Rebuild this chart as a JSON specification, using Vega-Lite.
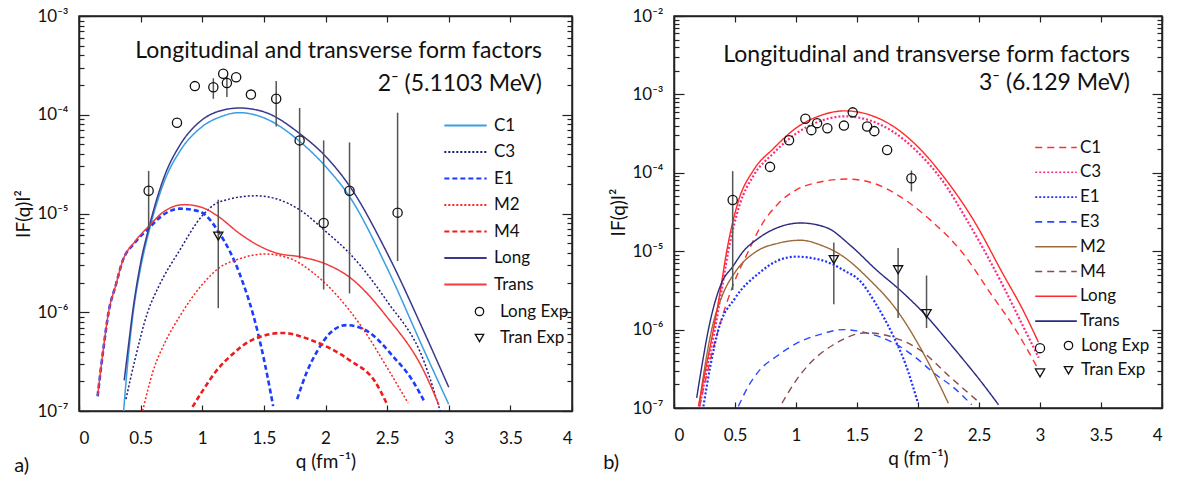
{
  "$schema": "https://vega.github.io/schema/vega-lite/v6.json",
  "padding": {"top": 6, "left": 14, "right": 2, "bottom": 0},
  "spacing": 595,
  "bounds": "flush",
  "resolve": {"scale": {"color": "independent", "strokeDash": "independent", "shape": "independent"}},
  "config": {
    "font": "Lato",
    "view": {"stroke": "#222", "strokeWidth": 1.5},
    "axis": {"grid": false, "domainColor": "#222", "domainWidth": 1.5, "tickColor": "#222", "tickWidth": 1.2, "labelFont": "Lato", "labelFontSize": 17, "labelColor": "#111", "titleFont": "Lato", "titleFontSize": 19, "titleFontWeight": "normal", "titleColor": "#111"},
    "legend": {"labelFont": "Lato", "labelFontSize": 17, "labelColor": "#111"},
    "title": {"font": "Lato", "fontWeight": "normal", "color": "#111", "subtitleFont": "Lato", "subtitleColor": "#111"}
  },
  "datasets": {
    "a_lines": [
      {"series": "C1", "seg": 1, "q": 0.362, "F": 1.0e-7},
      {"series": "C1", "seg": 1, "q": 0.4, "F": 3.55e-7},
      {"series": "C1", "seg": 1, "q": 0.435, "F": 8.9e-7},
      {"series": "C1", "seg": 1, "q": 0.5, "F": 2.82e-6},
      {"series": "C1", "seg": 1, "q": 0.57, "F": 6.76e-6},
      {"series": "C1", "seg": 1, "q": 0.7, "F": 2.24e-5},
      {"series": "C1", "seg": 1, "q": 0.813, "F": 4.17e-5},
      {"series": "C1", "seg": 1, "q": 1.0, "F": 7.59e-5},
      {"series": "C1", "seg": 1, "q": 1.15, "F": 9.55e-5},
      {"series": "C1", "seg": 1, "q": 1.3, "F": 1.05e-4},
      {"series": "C1", "seg": 1, "q": 1.5, "F": 9.3e-5},
      {"series": "C1", "seg": 1, "q": 1.8, "F": 5.25e-5},
      {"series": "C1", "seg": 1, "q": 2.0, "F": 3.0e-5},
      {"series": "C1", "seg": 1, "q": 2.2, "F": 1.45e-5},
      {"series": "C1", "seg": 1, "q": 2.5, "F": 2.8e-6},
      {"series": "C1", "seg": 1, "q": 2.8, "F": 4.1e-7},
      {"series": "C1", "seg": 1, "q": 3.0, "F": 1.17e-7},
      {"series": "C3", "seg": 1, "q": 0.381, "F": 1.32e-7},
      {"series": "C3", "seg": 1, "q": 0.45, "F": 3.16e-7},
      {"series": "C3", "seg": 1, "q": 0.557, "F": 1.0e-6},
      {"series": "C3", "seg": 1, "q": 0.65, "F": 1.86e-6},
      {"series": "C3", "seg": 1, "q": 0.813, "F": 4.17e-6},
      {"series": "C3", "seg": 1, "q": 1.0, "F": 9.5e-6},
      {"series": "C3", "seg": 1, "q": 1.11, "F": 1.26e-5},
      {"series": "C3", "seg": 1, "q": 1.2, "F": 1.38e-5},
      {"series": "C3", "seg": 1, "q": 1.43, "F": 1.51e-5},
      {"series": "C3", "seg": 1, "q": 1.6, "F": 1.41e-5},
      {"series": "C3", "seg": 1, "q": 1.8, "F": 1.07e-5},
      {"series": "C3", "seg": 1, "q": 2.0, "F": 6.61e-6},
      {"series": "C3", "seg": 1, "q": 2.2, "F": 3.89e-6},
      {"series": "C3", "seg": 1, "q": 2.5, "F": 1.29e-6},
      {"series": "C3", "seg": 1, "q": 2.8, "F": 3.16e-7},
      {"series": "C3", "seg": 1, "q": 2.93, "F": 1.0e-7},
      {"series": "E1", "seg": 1, "q": 0.151, "F": 1.41e-7},
      {"series": "E1", "seg": 1, "q": 0.2, "F": 4.47e-7},
      {"series": "E1", "seg": 1, "q": 0.24, "F": 1.0e-6},
      {"series": "E1", "seg": 1, "q": 0.3, "F": 1.91e-6},
      {"series": "E1", "seg": 1, "q": 0.354, "F": 3.31e-6},
      {"series": "E1", "seg": 1, "q": 0.45, "F": 5.01e-6},
      {"series": "E1", "seg": 1, "q": 0.557, "F": 6.92e-6},
      {"series": "E1", "seg": 1, "q": 0.7, "F": 1.0e-5},
      {"series": "E1", "seg": 1, "q": 0.813, "F": 1.12e-5},
      {"series": "E1", "seg": 1, "q": 0.976, "F": 1.05e-5},
      {"series": "E1", "seg": 1, "q": 1.14, "F": 6.31e-6},
      {"series": "E1", "seg": 1, "q": 1.3, "F": 2.51e-6},
      {"series": "E1", "seg": 1, "q": 1.45, "F": 6.31e-7},
      {"series": "E1", "seg": 1, "q": 1.554, "F": 1.55e-7},
      {"series": "E1", "seg": 1, "q": 1.575, "F": 1.12e-7},
      {"series": "E1", "seg": 2, "q": 1.77, "F": 1.32e-7},
      {"series": "E1", "seg": 2, "q": 1.85, "F": 2.51e-7},
      {"series": "E1", "seg": 2, "q": 1.93, "F": 3.98e-7},
      {"series": "E1", "seg": 2, "q": 2.03, "F": 6.03e-7},
      {"series": "E1", "seg": 2, "q": 2.17, "F": 7.41e-7},
      {"series": "E1", "seg": 2, "q": 2.35, "F": 6.31e-7},
      {"series": "E1", "seg": 2, "q": 2.55, "F": 3.55e-7},
      {"series": "E1", "seg": 2, "q": 2.7, "F": 2.09e-7},
      {"series": "E1", "seg": 2, "q": 2.8, "F": 1.26e-7},
      {"series": "M2", "seg": 1, "q": 0.516, "F": 1.0e-7},
      {"series": "M2", "seg": 1, "q": 0.6, "F": 2.51e-7},
      {"series": "M2", "seg": 1, "q": 0.7, "F": 5.01e-7},
      {"series": "M2", "seg": 1, "q": 0.813, "F": 8.91e-7},
      {"series": "M2", "seg": 1, "q": 1.0, "F": 1.91e-6},
      {"series": "M2", "seg": 1, "q": 1.138, "F": 2.82e-6},
      {"series": "M2", "seg": 1, "q": 1.3, "F": 3.47e-6},
      {"series": "M2", "seg": 1, "q": 1.5, "F": 3.89e-6},
      {"series": "M2", "seg": 1, "q": 1.7, "F": 3.55e-6},
      {"series": "M2", "seg": 1, "q": 1.9, "F": 2.51e-6},
      {"series": "M2", "seg": 1, "q": 2.1, "F": 1.45e-6},
      {"series": "M2", "seg": 1, "q": 2.3, "F": 6.92e-7},
      {"series": "M2", "seg": 1, "q": 2.5, "F": 2.75e-7},
      {"series": "M2", "seg": 1, "q": 2.67, "F": 1.2e-7},
      {"series": "M4", "seg": 1, "q": 0.921, "F": 1.1e-7},
      {"series": "M4", "seg": 1, "q": 1.0, "F": 1.58e-7},
      {"series": "M4", "seg": 1, "q": 1.11, "F": 2.51e-7},
      {"series": "M4", "seg": 1, "q": 1.25, "F": 3.8e-7},
      {"series": "M4", "seg": 1, "q": 1.39, "F": 5.13e-7},
      {"series": "M4", "seg": 1, "q": 1.65, "F": 6.17e-7},
      {"series": "M4", "seg": 1, "q": 1.9, "F": 5.13e-7},
      {"series": "M4", "seg": 1, "q": 2.2, "F": 3.24e-7},
      {"series": "M4", "seg": 1, "q": 2.4, "F": 2.0e-7},
      {"series": "M4", "seg": 1, "q": 2.5, "F": 1.17e-7},
      {"series": "Long", "seg": 1, "q": 0.367, "F": 2.04e-7},
      {"series": "Long", "seg": 1, "q": 0.4, "F": 4.47e-7},
      {"series": "Long", "seg": 1, "q": 0.435, "F": 1.0e-6},
      {"series": "Long", "seg": 1, "q": 0.5, "F": 3.16e-6},
      {"series": "Long", "seg": 1, "q": 0.57, "F": 7.41e-6},
      {"series": "Long", "seg": 1, "q": 0.7, "F": 2.51e-5},
      {"series": "Long", "seg": 1, "q": 0.813, "F": 4.79e-5},
      {"series": "Long", "seg": 1, "q": 1.0, "F": 8.91e-5},
      {"series": "Long", "seg": 1, "q": 1.15, "F": 1.1e-4},
      {"series": "Long", "seg": 1, "q": 1.3, "F": 1.17e-4},
      {"series": "Long", "seg": 1, "q": 1.5, "F": 1.07e-4},
      {"series": "Long", "seg": 1, "q": 1.8, "F": 6.31e-5},
      {"series": "Long", "seg": 1, "q": 2.0, "F": 3.8e-5},
      {"series": "Long", "seg": 1, "q": 2.2, "F": 1.86e-5},
      {"series": "Long", "seg": 1, "q": 2.5, "F": 3.98e-6},
      {"series": "Long", "seg": 1, "q": 2.8, "F": 6.31e-7},
      {"series": "Long", "seg": 1, "q": 3.0, "F": 1.74e-7},
      {"series": "Trans", "seg": 1, "q": 0.151, "F": 1.41e-7},
      {"series": "Trans", "seg": 1, "q": 0.2, "F": 4.47e-7},
      {"series": "Trans", "seg": 1, "q": 0.24, "F": 1.0e-6},
      {"series": "Trans", "seg": 1, "q": 0.3, "F": 1.91e-6},
      {"series": "Trans", "seg": 1, "q": 0.354, "F": 3.31e-6},
      {"series": "Trans", "seg": 1, "q": 0.45, "F": 5.13e-6},
      {"series": "Trans", "seg": 1, "q": 0.557, "F": 7.24e-6},
      {"series": "Trans", "seg": 1, "q": 0.7, "F": 1.07e-5},
      {"series": "Trans", "seg": 1, "q": 0.854, "F": 1.23e-5},
      {"series": "Trans", "seg": 1, "q": 1.0, "F": 1.15e-5},
      {"series": "Trans", "seg": 1, "q": 1.13, "F": 9.33e-6},
      {"series": "Trans", "seg": 1, "q": 1.3, "F": 6.31e-6},
      {"series": "Trans", "seg": 1, "q": 1.45, "F": 4.79e-6},
      {"series": "Trans", "seg": 1, "q": 1.6, "F": 3.98e-6},
      {"series": "Trans", "seg": 1, "q": 1.8, "F": 3.63e-6},
      {"series": "Trans", "seg": 1, "q": 2.0, "F": 3.09e-6},
      {"series": "Trans", "seg": 1, "q": 2.2, "F": 2.24e-6},
      {"series": "Trans", "seg": 1, "q": 2.5, "F": 8.91e-7},
      {"series": "Trans", "seg": 1, "q": 2.8, "F": 2.51e-7},
      {"series": "Trans", "seg": 1, "q": 2.92, "F": 1.15e-7}
    ],
    "a_exp": [
      {"series": "Long Exp", "q": 0.565, "F": 1.7e-5, "lo": 7.1e-6, "hi": 2.7e-5},
      {"series": "Long Exp", "q": 0.795, "F": 8.3e-5},
      {"series": "Long Exp", "q": 0.94, "F": 1.95e-4},
      {"series": "Long Exp", "q": 1.09, "F": 1.9e-4, "lo": 1.45e-4, "hi": 2.34e-4},
      {"series": "Long Exp", "q": 1.17, "F": 2.6e-4},
      {"series": "Long Exp", "q": 1.2, "F": 2.1e-4, "lo": 1.51e-4, "hi": 2.45e-4},
      {"series": "Long Exp", "q": 1.275, "F": 2.4e-4},
      {"series": "Long Exp", "q": 1.395, "F": 1.6e-4},
      {"series": "Long Exp", "q": 1.6, "F": 1.45e-4, "lo": 7.6e-5, "hi": 2.2e-4},
      {"series": "Long Exp", "q": 1.79, "F": 5.5e-5, "lo": 3.5e-6, "hi": 1.17e-4},
      {"series": "Long Exp", "q": 1.985, "F": 8.0e-6, "lo": 1.7e-6, "hi": 5.5e-5},
      {"series": "Long Exp", "q": 2.195, "F": 1.7e-5, "lo": 1.55e-6, "hi": 5.25e-5},
      {"series": "Long Exp", "q": 2.585, "F": 1.02e-5, "lo": 3.3e-6, "hi": 1.05e-4},
      {"series": "Tran Exp", "q": 1.13, "F": 5.9e-6, "lo": 1.1e-6, "hi": 1.38e-5}
    ],
    "b_lines": [
      {"series": "C1", "q": 0.21, "F": 1.05e-7},
      {"series": "C1", "q": 0.28, "F": 3.16e-7},
      {"series": "C1", "q": 0.364, "F": 1.0e-6},
      {"series": "C1", "q": 0.48, "F": 3.55e-6},
      {"series": "C1", "q": 0.61, "F": 1.0e-5},
      {"series": "C1", "q": 0.705, "F": 2.0e-5},
      {"series": "C1", "q": 0.85, "F": 3.98e-5},
      {"series": "C1", "q": 1.0, "F": 6.03e-5},
      {"series": "C1", "q": 1.156, "F": 7.41e-5},
      {"series": "C1", "q": 1.42, "F": 8.32e-5},
      {"series": "C1", "q": 1.65, "F": 7.24e-5},
      {"series": "C1", "q": 1.85, "F": 5.01e-5},
      {"series": "C1", "q": 2.1, "F": 2.51e-5},
      {"series": "C1", "q": 2.37, "F": 9.33e-6},
      {"series": "C1", "q": 2.6, "F": 2.82e-6},
      {"series": "C1", "q": 2.8, "F": 1.0e-6},
      {"series": "C1", "q": 2.973, "F": 3.39e-7},
      {"series": "C3", "q": 0.21, "F": 1.05e-7},
      {"series": "C3", "q": 0.27, "F": 3.16e-7},
      {"series": "C3", "q": 0.335, "F": 1.0e-6},
      {"series": "C3", "q": 0.39, "F": 3.16e-6},
      {"series": "C3", "q": 0.445, "F": 1.0e-5},
      {"series": "C3", "q": 0.54, "F": 3.98e-5},
      {"series": "C3", "q": 0.65, "F": 9.12e-5},
      {"series": "C3", "q": 0.815, "F": 1.78e-4},
      {"series": "C3", "q": 1.0, "F": 3.16e-4},
      {"series": "C3", "q": 1.2, "F": 4.57e-4},
      {"series": "C3", "q": 1.4, "F": 5.25e-4},
      {"series": "C3", "q": 1.6, "F": 4.68e-4},
      {"series": "C3", "q": 1.8, "F": 3.31e-4},
      {"series": "C3", "q": 2.0, "F": 1.82e-4},
      {"series": "C3", "q": 2.2, "F": 7.94e-5},
      {"series": "C3", "q": 2.4, "F": 2.51e-5},
      {"series": "C3", "q": 2.7, "F": 3.55e-6},
      {"series": "C3", "q": 2.85, "F": 1.2e-6},
      {"series": "C3", "q": 2.99, "F": 4.37e-7},
      {"series": "E1", "q": 0.241, "F": 1.05e-7},
      {"series": "E1", "q": 0.3, "F": 3.55e-7},
      {"series": "E1", "q": 0.364, "F": 1.0e-6},
      {"series": "E1", "q": 0.5, "F": 2.51e-6},
      {"series": "E1", "q": 0.705, "F": 5.37e-6},
      {"series": "E1", "q": 0.85, "F": 7.59e-6},
      {"series": "E1", "q": 1.0, "F": 8.51e-6},
      {"series": "E1", "q": 1.2, "F": 7.76e-6},
      {"series": "E1", "q": 1.4, "F": 5.62e-6},
      {"series": "E1", "q": 1.525, "F": 4.17e-6},
      {"series": "E1", "q": 1.65, "F": 2.19e-6},
      {"series": "E1", "q": 1.8, "F": 8.13e-7},
      {"series": "E1", "q": 1.9, "F": 3.55e-7},
      {"series": "E1", "q": 2.0, "F": 1.15e-7},
      {"series": "E3", "q": 0.528, "F": 1.05e-7},
      {"series": "E3", "q": 0.6, "F": 1.78e-7},
      {"series": "E3", "q": 0.7, "F": 3.02e-7},
      {"series": "E3", "q": 0.842, "F": 4.57e-7},
      {"series": "E3", "q": 1.0, "F": 6.61e-7},
      {"series": "E3", "q": 1.2, "F": 8.71e-7},
      {"series": "E3", "q": 1.389, "F": 1.0e-6},
      {"series": "E3", "q": 1.6, "F": 8.91e-7},
      {"series": "E3", "q": 1.8, "F": 6.76e-7},
      {"series": "E3", "q": 2.0, "F": 4.17e-7},
      {"series": "E3", "q": 2.126, "F": 2.82e-7},
      {"series": "E3", "q": 2.3, "F": 1.78e-7},
      {"series": "E3", "q": 2.44, "F": 1.1e-7},
      {"series": "M2", "q": 0.208, "F": 1.15e-7},
      {"series": "M2", "q": 0.25, "F": 3.16e-7},
      {"series": "M2", "q": 0.309, "F": 1.0e-6},
      {"series": "M2", "q": 0.4, "F": 2.82e-6},
      {"series": "M2", "q": 0.5, "F": 5.37e-6},
      {"series": "M2", "q": 0.678, "F": 1.0e-5},
      {"series": "M2", "q": 0.85, "F": 1.26e-5},
      {"series": "M2", "q": 1.04, "F": 1.38e-5},
      {"series": "M2", "q": 1.2, "F": 1.2e-5},
      {"series": "M2", "q": 1.389, "F": 8.51e-6},
      {"series": "M2", "q": 1.6, "F": 4.37e-6},
      {"series": "M2", "q": 1.825, "F": 1.78e-6},
      {"series": "M2", "q": 2.071, "F": 4.17e-7},
      {"series": "M2", "q": 2.249, "F": 1.15e-7},
      {"series": "M4", "q": 0.885, "F": 1.15e-7},
      {"series": "M4", "q": 1.0, "F": 2.24e-7},
      {"series": "M4", "q": 1.115, "F": 3.72e-7},
      {"series": "M4", "q": 1.3, "F": 6.31e-7},
      {"series": "M4", "q": 1.58, "F": 9.12e-7},
      {"series": "M4", "q": 1.8, "F": 7.94e-7},
      {"series": "M4", "q": 2.016, "F": 5.5e-7},
      {"series": "M4", "q": 2.26, "F": 2.51e-7},
      {"series": "M4", "q": 2.51, "F": 1.15e-7},
      {"series": "Long", "q": 0.2, "F": 1.05e-7},
      {"series": "Long", "q": 0.26, "F": 3.16e-7},
      {"series": "Long", "q": 0.323, "F": 1.0e-6},
      {"series": "Long", "q": 0.38, "F": 3.16e-6},
      {"series": "Long", "q": 0.432, "F": 1.0e-5},
      {"series": "Long", "q": 0.528, "F": 4.37e-5},
      {"series": "Long", "q": 0.65, "F": 1.07e-4},
      {"series": "Long", "q": 0.815, "F": 2.04e-4},
      {"series": "Long", "q": 1.0, "F": 3.72e-4},
      {"series": "Long", "q": 1.2, "F": 5.37e-4},
      {"series": "Long", "q": 1.4, "F": 6.17e-4},
      {"series": "Long", "q": 1.6, "F": 5.5e-4},
      {"series": "Long", "q": 1.8, "F": 3.89e-4},
      {"series": "Long", "q": 2.0, "F": 2.14e-4},
      {"series": "Long", "q": 2.2, "F": 9.33e-5},
      {"series": "Long", "q": 2.454, "F": 2.51e-5},
      {"series": "Long", "q": 2.7, "F": 5.01e-6},
      {"series": "Long", "q": 2.85, "F": 1.91e-6},
      {"series": "Long", "q": 2.987, "F": 6.92e-7},
      {"series": "Trans", "q": 0.186, "F": 1.35e-7},
      {"series": "Trans", "q": 0.23, "F": 3.55e-7},
      {"series": "Trans", "q": 0.282, "F": 1.0e-6},
      {"series": "Trans", "q": 0.391, "F": 3.98e-6},
      {"series": "Trans", "q": 0.48, "F": 6.31e-6},
      {"series": "Trans", "q": 0.569, "F": 1.0e-5},
      {"series": "Trans", "q": 0.678, "F": 1.41e-5},
      {"series": "Trans", "q": 0.85, "F": 2.0e-5},
      {"series": "Trans", "q": 1.04, "F": 2.29e-5},
      {"series": "Trans", "q": 1.25, "F": 2.0e-5},
      {"series": "Trans", "q": 1.45, "F": 1.17e-5},
      {"series": "Trans", "q": 1.66, "F": 5.75e-6},
      {"series": "Trans", "q": 1.87, "F": 3.02e-6},
      {"series": "Trans", "q": 2.071, "F": 1.48e-6},
      {"series": "Trans", "q": 2.22, "F": 7.94e-7},
      {"series": "Trans", "q": 2.37, "F": 4.17e-7},
      {"series": "Trans", "q": 2.52, "F": 2.14e-7},
      {"series": "Trans", "q": 2.66, "F": 1.1e-7}
    ],
    "b_exp": [
      {"series": "Long Exp", "q": 0.481, "F": 4.5e-5, "lo": 3.2e-6, "hi": 1.05e-4},
      {"series": "Long Exp", "q": 0.787, "F": 1.19e-4},
      {"series": "Long Exp", "q": 0.943, "F": 2.6e-4},
      {"series": "Long Exp", "q": 1.077, "F": 4.9e-4},
      {"series": "Long Exp", "q": 1.126, "F": 3.5e-4},
      {"series": "Long Exp", "q": 1.173, "F": 4.3e-4},
      {"series": "Long Exp", "q": 1.257, "F": 3.7e-4},
      {"series": "Long Exp", "q": 1.393, "F": 4.0e-4},
      {"series": "Long Exp", "q": 1.465, "F": 5.9e-4},
      {"series": "Long Exp", "q": 1.583, "F": 3.9e-4},
      {"series": "Long Exp", "q": 1.642, "F": 3.4e-4},
      {"series": "Long Exp", "q": 1.747, "F": 1.95e-4},
      {"series": "Long Exp", "q": 1.946, "F": 8.5e-5, "lo": 5.8e-5, "hi": 1.07e-4},
      {"series": "Long Exp", "q": 3.0, "F": 5.8e-7},
      {"series": "Tran Exp", "q": 1.31, "F": 7.8e-6, "lo": 2.1e-6, "hi": 1.29e-5},
      {"series": "Tran Exp", "q": 1.837, "F": 5.8e-6, "lo": 1.41e-6, "hi": 1.1e-5},
      {"series": "Tran Exp", "q": 2.07, "F": 1.6e-6, "lo": 1.05e-6, "hi": 4.9e-6},
      {"series": "Tran Exp", "q": 3.0, "F": 2.8e-7}
    ]
  },
  "hconcat": [
    {
      "title": {"text": "a)", "orient": "bottom", "anchor": "start", "frame": "bounds", "fontSize": 20, "offset": -16, "dx": 0},
      "vconcat": [
        {
          "width": 493,
          "height": 395,
          "title": {"text": "Longitudinal and transverse form factors", "subtitle": "2⁻ (5.1103 MeV)", "anchor": "end", "frame": "group", "fontSize": 23, "subtitleFontSize": 23, "subtitlePadding": 10, "offset": -89, "dx": -30},
          "resolve": {"axis": {"x": "independent", "y": "independent"}},
          "layer": [
            {
              "data": {"name": "a_lines"},
              "mark": {"type": "line", "interpolate": "monotone", "clip": true},
              "encoding": {
                "x": {"field": "q", "type": "quantitative", "scale": {"domain": [0, 4], "nice": false},
                  "axis": {"orient": "bottom", "values": [0, 0.5, 1, 1.5, 2, 2.5, 3, 3.5, 4], "labelExpr": "'' + datum.value", "tickSize": -6, "labelPadding": 25, "title": "q (fm⁻¹)", "titlePadding": 6}},
                "y": {"field": "F", "type": "quantitative", "scale": {"type": "log", "domain": [1e-7, 1e-3], "nice": false},
                  "axis": {"orient": "left", "values": [1e-7, 2e-7, 3e-7, 4e-7, 5e-7, 6e-7, 7e-7, 8e-7, 9e-7, 1e-6, 2e-6, 3e-6, 4e-6, 5e-6, 6e-6, 7e-6, 8e-6, 9e-6, 1e-5, 2e-5, 3e-5, 4e-5, 5e-5, 6e-5, 7e-5, 8e-5, 9e-5, 1e-4, 2e-4, 3e-4, 4e-4, 5e-4, 6e-4, 7e-4, 8e-4, 9e-4, 1e-3],
                    "labelExpr": "abs(log(datum.value)/LN10 - round(log(datum.value)/LN10)) < 0.01 ? '10⁻' + substring('⁰¹²³⁴⁵⁶⁷⁸⁹', -round(log(datum.value)/LN10), -round(log(datum.value)/LN10) + 1) : ''",
                    "tickSize": {"condition": {"test": "abs(log(datum.value)/LN10 - round(log(datum.value)/LN10)) < 0.01", "value": -10}, "value": -5},
                    "labelPadding": 21, "title": "IF(q)I²", "titlePadding": 3}},
                "color": {"field": "series", "type": "nominal",
                  "scale": {"domain": ["C1", "C3", "E1", "M2", "M4", "Long", "Trans"], "range": ["#3b9ee0", "#1c1c80", "#1c3cff", "#ff2020", "#ee1c1c", "#3a3a8c", "#f03c3c"]},
                  "legend": {"title": null, "orient": "none", "legendX": 378, "legendY": 101, "symbolType": "M-8,0H8", "symbolSize": 28, "symbolStrokeWidth": 1.8, "labelOffset": 20, "rowPadding": 8.5}},
                "strokeDash": {"field": "series", "type": "nominal",
                  "scale": {"domain": ["C1", "C3", "E1", "M2", "M4", "Long", "Trans"], "range": [[1, 0], [2, 2], [5, 3], [2, 2], [5, 3], [1, 0], [1, 0]]},
                  "legend": {"title": null, "orient": "none", "legendX": 378, "legendY": 101, "symbolType": "M-8,0H8", "symbolSize": 28, "symbolStrokeWidth": 1.8, "labelOffset": 20, "rowPadding": 8.5}},
                "strokeWidth": {"condition": {"test": "datum.series == 'E1' || datum.series == 'M4'", "value": 2.6}, "value": 1.5},
                "detail": {"field": "seg", "type": "nominal"}
              }
            },
            {
              "data": {"name": "a_exp"},
              "transform": [{"filter": "isValid(datum.lo)"}],
              "mark": {"type": "rule", "color": "#555", "strokeWidth": 1.5},
              "encoding": {
                "x": {"field": "q", "type": "quantitative", "axis": {"orient": "top", "values": [0, 0.5, 1, 1.5, 2, 2.5, 3, 3.5, 4], "labels": false, "tickSize": -6, "title": null, "minExtent": 0.001, "maxExtent": 0.001}},
                "y": {"field": "lo", "type": "quantitative",
                  "axis": {"orient": "right", "values": [1e-7, 2e-7, 3e-7, 4e-7, 5e-7, 6e-7, 7e-7, 8e-7, 9e-7, 1e-6, 2e-6, 3e-6, 4e-6, 5e-6, 6e-6, 7e-6, 8e-6, 9e-6, 1e-5, 2e-5, 3e-5, 4e-5, 5e-5, 6e-5, 7e-5, 8e-5, 9e-5, 1e-4, 2e-4, 3e-4, 4e-4, 5e-4, 6e-4, 7e-4, 8e-4, 9e-4, 1e-3], "labels": false, "title": null, "minExtent": 0.001, "maxExtent": 0.001,
                    "tickSize": {"condition": {"test": "abs(log(datum.value)/LN10 - round(log(datum.value)/LN10)) < 0.01", "value": -10}, "value": -5}}},
                "y2": {"field": "hi"}
              }
            },
            {
              "data": {"name": "a_exp"},
              "mark": {"type": "point", "filled": false, "stroke": "#111", "strokeWidth": 1.3, "size": 85, "opacity": 1},
              "encoding": {
                "x": {"field": "q", "type": "quantitative", "axis": null},
                "y": {"field": "F", "type": "quantitative", "axis": null},
                "shape": {"field": "series", "type": "nominal", "scale": {"domain": ["Long Exp", "Tran Exp"], "range": ["circle", "triangle-down"]},
                  "legend": {"title": null, "orient": "none", "legendX": 392, "legendY": 287, "symbolStrokeColor": "#111", "symbolFillColor": "transparent", "symbolStrokeWidth": 1.3, "symbolSize": 70, "labelOffset": 12, "rowPadding": 8.5}}
              }
            }
          ]
        }
      ]
    },
    {
      "title": {"text": "b)", "orient": "bottom", "anchor": "start", "frame": "bounds", "fontSize": 20, "offset": -16, "dx": -6},
      "vconcat": [
        {
          "width": 488,
          "height": 392,
          "title": {"text": "Longitudinal and transverse form factors", "subtitle": "3⁻ (6.129 MeV)", "anchor": "end", "frame": "group", "fontSize": 23, "subtitleFontSize": 23, "subtitlePadding": 5, "offset": -88, "dx": -32},
          "resolve": {"axis": {"x": "independent", "y": "independent"}},
          "layer": [
            {
              "data": {"name": "b_lines"},
              "mark": {"type": "line", "interpolate": "monotone", "clip": true},
              "encoding": {
                "x": {"field": "q", "type": "quantitative", "scale": {"domain": [0, 4], "nice": false},
                  "axis": {"orient": "bottom", "values": [0, 0.5, 1, 1.5, 2, 2.5, 3, 3.5, 4], "labelExpr": "'' + datum.value", "tickSize": -6, "labelPadding": 25, "title": "q (fm⁻¹)", "titlePadding": 6}},
                "y": {"field": "F", "type": "quantitative", "scale": {"type": "log", "domain": [1e-7, 1e-2], "nice": false},
                  "axis": {"orient": "left", "values": [1e-7, 2e-7, 3e-7, 4e-7, 5e-7, 6e-7, 7e-7, 8e-7, 9e-7, 1e-6, 2e-6, 3e-6, 4e-6, 5e-6, 6e-6, 7e-6, 8e-6, 9e-6, 1e-5, 2e-5, 3e-5, 4e-5, 5e-5, 6e-5, 7e-5, 8e-5, 9e-5, 1e-4, 2e-4, 3e-4, 4e-4, 5e-4, 6e-4, 7e-4, 8e-4, 9e-4, 1e-3, 2e-3, 3e-3, 4e-3, 5e-3, 6e-3, 7e-3, 8e-3, 9e-3, 1e-2],
                    "labelExpr": "abs(log(datum.value)/LN10 - round(log(datum.value)/LN10)) < 0.01 ? '10⁻' + substring('⁰¹²³⁴⁵⁶⁷⁸⁹', -round(log(datum.value)/LN10), -round(log(datum.value)/LN10) + 1) : ''",
                    "tickSize": {"condition": {"test": "abs(log(datum.value)/LN10 - round(log(datum.value)/LN10)) < 0.01", "value": -10}, "value": -5},
                    "labelPadding": 21, "title": "IF(q)I²", "titlePadding": 3}},
                "color": {"field": "series", "type": "nominal",
                  "scale": {"domain": ["C1", "C3", "E1", "E3", "M2", "M4", "Long", "Trans"], "range": ["#ff3030", "#ff2a80", "#2030ff", "#2a4aff", "#9c6a3a", "#8c4a4a", "#ff2a2a", "#2a2a80"]},
                  "legend": {"title": null, "orient": "none", "legendX": 373.5, "legendY": 123, "symbolType": "M-8,0H8", "symbolSize": 27, "symbolStrokeWidth": 1.6, "labelOffset": 15.5, "rowPadding": 6.8}},
                "strokeDash": {"field": "series", "type": "nominal",
                  "scale": {"domain": ["C1", "C3", "E1", "E3", "M2", "M4", "Long", "Trans"], "range": [[7, 5], [2, 2], [2, 2], [7, 5], [1, 0], [7, 5], [1, 0], [1, 0]]},
                  "legend": {"title": null, "orient": "none", "legendX": 373.5, "legendY": 123, "symbolType": "M-8,0H8", "symbolSize": 27, "symbolStrokeWidth": 1.6, "labelOffset": 15.5, "rowPadding": 6.8}},
                "strokeWidth": {"condition": {"test": "datum.series == 'E1' || datum.series == 'C3'", "value": 2.2}, "value": 1.4}
              }
            },
            {
              "data": {"name": "b_exp"},
              "transform": [{"filter": "isValid(datum.lo)"}],
              "mark": {"type": "rule", "color": "#555", "strokeWidth": 1.5},
              "encoding": {
                "x": {"field": "q", "type": "quantitative", "axis": {"orient": "top", "values": [0, 0.5, 1, 1.5, 2, 2.5, 3, 3.5, 4], "labels": false, "tickSize": -6, "title": null, "minExtent": 0.001, "maxExtent": 0.001}},
                "y": {"field": "lo", "type": "quantitative",
                  "axis": {"orient": "right", "values": [1e-7, 2e-7, 3e-7, 4e-7, 5e-7, 6e-7, 7e-7, 8e-7, 9e-7, 1e-6, 2e-6, 3e-6, 4e-6, 5e-6, 6e-6, 7e-6, 8e-6, 9e-6, 1e-5, 2e-5, 3e-5, 4e-5, 5e-5, 6e-5, 7e-5, 8e-5, 9e-5, 1e-4, 2e-4, 3e-4, 4e-4, 5e-4, 6e-4, 7e-4, 8e-4, 9e-4, 1e-3, 2e-3, 3e-3, 4e-3, 5e-3, 6e-3, 7e-3, 8e-3, 9e-3, 1e-2], "labels": false, "title": null, "minExtent": 0.001, "maxExtent": 0.001,
                    "tickSize": {"condition": {"test": "abs(log(datum.value)/LN10 - round(log(datum.value)/LN10)) < 0.01", "value": -10}, "value": -5}}},
                "y2": {"field": "hi"}
              }
            },
            {
              "data": {"name": "b_exp"},
              "mark": {"type": "point", "filled": false, "stroke": "#111", "strokeWidth": 1.3, "size": 85, "opacity": 1},
              "encoding": {
                "x": {"field": "q", "type": "quantitative", "axis": null},
                "y": {"field": "F", "type": "quantitative", "axis": null},
                "shape": {"field": "series", "type": "nominal", "scale": {"domain": ["Long Exp", "Tran Exp"], "range": ["circle", "triangle-down"]},
                  "legend": {"title": null, "orient": "none", "legendX": 386, "legendY": 321, "symbolStrokeColor": "#111", "symbolFillColor": "transparent", "symbolStrokeWidth": 1.3, "symbolSize": 70, "labelOffset": 4, "rowPadding": 6.8}}
              }
            }
          ]
        }
      ]
    }
  ]
}
